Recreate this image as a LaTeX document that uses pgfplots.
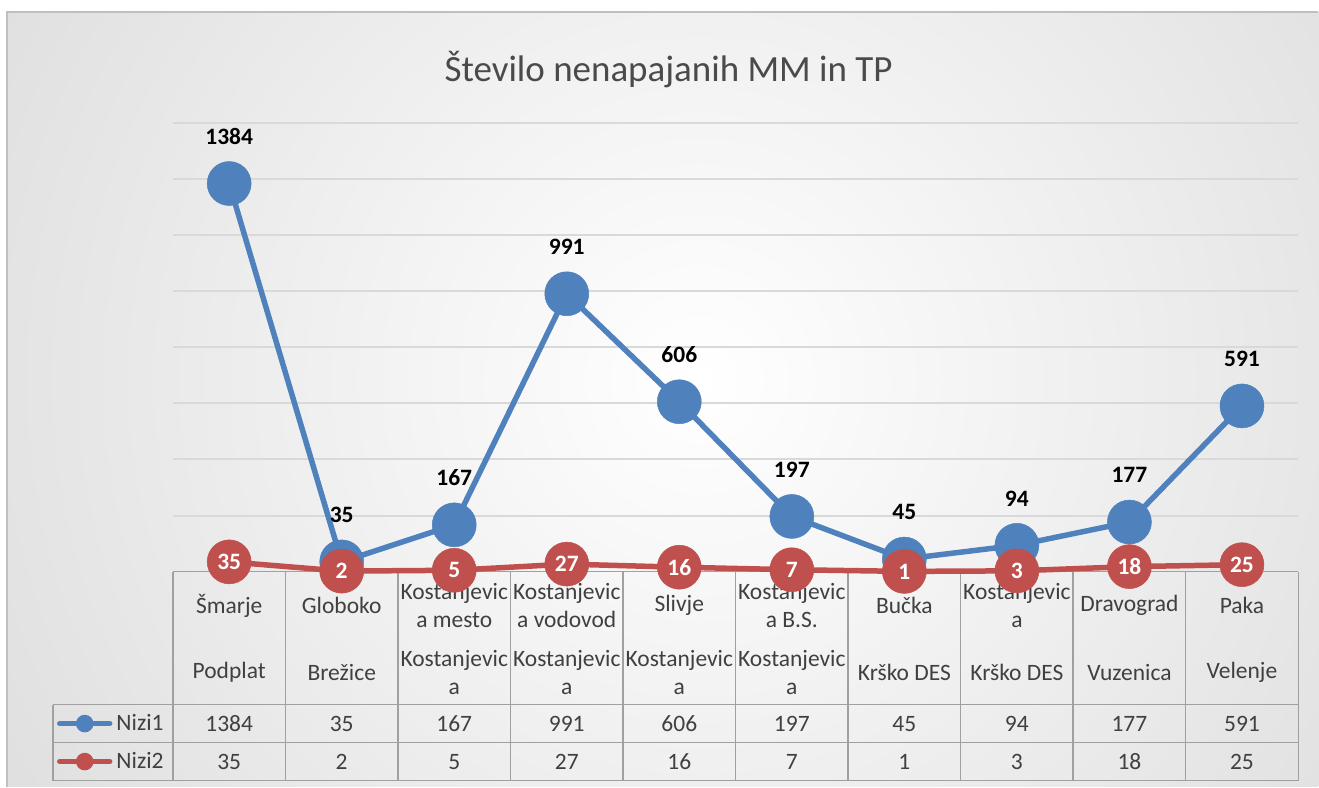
\documentclass[border=0pt]{standalone}
\usepackage{pgfplots}
\pgfplotsset{compat=1.18}
\usepackage{pgfplotstable}
\usepackage{fontspec}
\setmainfont{Carlito}
\definecolor{sblue}{HTML}{4F81BD}
\definecolor{sred}{HTML}{C0504D}
\definecolor{txt}{HTML}{404040}
\definecolor{ttl}{HTML}{4A4A4A}
\definecolor{gridc}{HTML}{D9D9D9}
\definecolor{tline}{HTML}{A0A0A0}
\definecolor{bgout}{HTML}{C4C4C4}
\newcommand\tf{\fontsize{23.5}{28}\selectfont}

\pgfplotstableread{
x a b
0 1384 35
1 35 2
2 167 5
3 991 27
4 606 16
5 197 7
6 45 1
7 94 3
8 177 18
9 591 25
}\data

\begin{document}
\begin{tikzpicture}[x=1pt,y=1pt]
\path (0,0) rectangle (1319,-787);
\begin{scope}
\clip (7,-12) rectangle (1319,-787);
\fill[bgout] (7,-12) rectangle (1319,-787);
\shade[inner color=white, outer color=bgout] (700,-380) circle (1500pt);
\end{scope}
\draw[line width=1.5pt, color=black!25] (7,-787) -- (7,-12) -- (1319,-12);
\node[anchor=base, font=\fontsize{37}{44}\selectfont, text=ttl] at (669,-82) {Število nenapajanih MM in TP};

% table grid
\begin{scope}[tline, line width=1.5pt]
\draw (173,-572) -- (1299,-572);
\foreach \yy in {705,743,781} \draw (53,-\yy) -- (1299,-\yy);
\draw (53,-705) -- (53,-781);
\foreach \k in {0,...,10} \draw ({173+112.6*\k},-572) -- ({173+112.6*\k},-781);
\end{scope}

\foreach \i/\a/\b in {0/Šmarje/Podplat, 1/Globoko/Brežice, 2/{Kostanjevic\\a mesto}/{Kostanjevic\\a}, 3/{Kostanjevic\\a vodovod}/{Kostanjevic\\a}, 4/Slivje/{Kostanjevic\\a}, 5/{Kostanjevic\\a B.S.}/{Kostanjevic\\a}, 6/Bučka/Krško DES, 7/{Kostanjevic\\a}/Krško DES, 8/Dravograd/Vuzenica, 9/Paka/Velenje}{
  \node[align=center, font=\tf, text=txt, inner sep=0pt] at ({173+112.6*(\i+0.5)}, -606) {\a};
  \node[align=center, font=\tf, text=txt, inner sep=0pt] at ({173+112.6*(\i+0.5)}, -673) {\b};
}

\begin{axis}[at={(173pt,-572pt)}, anchor=south west, scale only axis,
  width=1126pt, height=449pt,
  xmin=-0.5, xmax=9.5, ymin=0, ymax=1600,
  axis line style={draw=none},
  xtick=\empty, ytick={200,400,...,1600}, yticklabels={},
  ymajorgrids, major grid style={gridc, line width=2pt},
  major tick length=0pt, clip=false,
  legend style={at={(axis description cs:-0.1030,-0.2962)}, anchor=north west,
    draw=none, fill=none, inner sep=0pt, outer sep=0pt, row sep=0pt, column sep=4pt,
    nodes={inner sep=0pt, minimum height=38pt, text=txt, font=\tf}},
  legend cell align=left,
  legend image code/.code={\draw[mark=none, line cap=round] (3pt,0pt) -- (53pt,0pt); \fill (28pt,0pt) circle (6pt);},
]
\addplot[sblue, line width=5.5pt, mark=*, mark size=22pt, mark options={line width=0.5pt},
  nodes near coords, point meta=explicit symbolic,
  every node near coord/.style={anchor=center, yshift=47pt, text=black, font=\fontsize{23.5}{27}\selectfont\bfseries}]
  table[x=x, y=a, meta=a] {\data};
\addlegendentry{Nizi1}
\addplot[sred, line width=5.5pt, mark=*, mark size=22pt, mark options={line width=0.5pt},
  nodes near coords, point meta=explicit symbolic,
  every node near coord/.style={anchor=center, text=white, font=\fontsize{23.5}{27}\selectfont\bfseries}]
  table[x=x, y=b, meta=b] {\data};
\addlegendentry{Nizi2}
\addplot[draw=none, mark=none, forget plot, nodes near coords, point meta=explicit symbolic,
  every node near coord/.style={anchor=center, text=txt, font=\tf}]
  table[x=x, y expr=-541.65, meta=a] {\data};
\addplot[draw=none, mark=none, forget plot, nodes near coords, point meta=explicit symbolic,
  every node near coord/.style={anchor=center, text=txt, font=\tf}]
  table[x=x, y expr=-677.06, meta=b] {\data};
\end{axis}
\end{tikzpicture}
\end{document}
